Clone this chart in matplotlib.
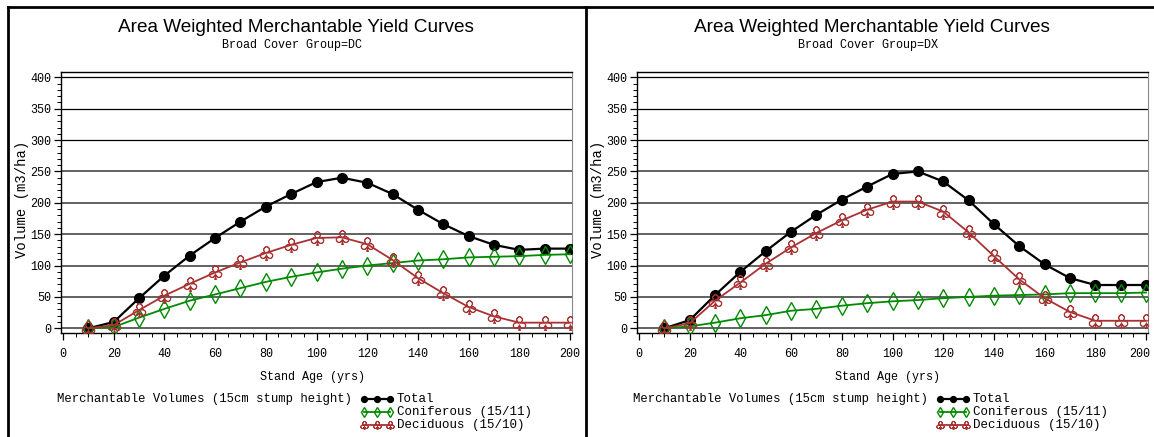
"""Area weighted merchantable yield curves, DC and DX broad cover groups, side by side."""
import numpy as np
import matplotlib
matplotlib.use("Agg")
import matplotlib.pyplot as plt  # noqa: E402
import matplotlib.transforms as mtransforms  # noqa: E402
from matplotlib.lines import Line2D  # noqa: E402
from matplotlib.ticker import MultipleLocator  # noqa: E402

W, H = 1154, 437
AGE = [10, 20, 30, 40, 50, 60, 70, 80, 90, 100, 110, 120, 130, 140, 150, 160, 170, 180, 190, 200]

DC_TOTAL = [0, 10, 48, 84, 116, 144, 170, 194, 214, 233, 240, 232, 214, 189, 166, 147, 133, 125, 127, 127]
DC_CONIF = [0, 2, 17, 31, 44, 54, 64, 74, 82, 89, 95, 100, 104, 108, 110, 113, 114, 115, 117, 118]
DC_DECID = [0, 5, 29, 52, 71, 89, 105, 120, 133, 144, 145, 134, 109, 80, 56, 34, 19, 9, 9, 9]

DX_TOTAL = [0, 13, 53, 90, 123, 154, 181, 205, 226, 246, 250, 234, 204, 166, 131, 102, 80, 69, 69, 69]
DX_CONIF = [0, 3, 9, 16, 21, 28, 31, 36, 40, 43, 45, 48, 50, 52, 53, 54, 56, 56, 56, 57]
DX_DECID = [0, 8, 44, 73, 103, 129, 152, 172, 189, 202, 202, 186, 153, 115, 78, 48, 26, 12, 12, 12]

TITLE = "Area Weighted Merchantable Yield Curves"
FOOT = "Merchantable Volumes (15cm stump height)"
LEGEND = ["Total", "Coniferous (15/11)", "Deciduous (15/10)"]

BLACK, GREEN, RED = "#000000", "#008a00", "#a83232"
SIMPLEX = "Liberation Mono"
STYLES = [
    dict(color=BLACK, marker="o", ms=7, mfc=BLACK, lw=1.6),
    dict(color=GREEN, marker="d", ms=9, mfc="none", mew=1.0, lw=1.3),
    dict(color=RED, marker="$\u2667$", ms=10, mfc="none", mew=0.6, lw=1.3),
]


def fx(px):
    return px / W


def fy(py):
    return 1 - py / H


def panel(fig, x0, group, series):
    # x0 = pixel offset of this panel relative to the left one
    ax = fig.add_axes([fx(61 + x0), fy(333), fx(511), fy(72) - fy(333)])
    for vals, st in zip(series, STYLES):
        ax.plot(AGE, vals, **st, zorder=3)
    ax.set_xlim(-0.8, 200.8)
    ax.set_ylim(-7.5, 408.5)
    ax.xaxis.set_major_locator(MultipleLocator(20))
    ax.xaxis.set_minor_locator(MultipleLocator(5))
    ax.yaxis.set_major_locator(MultipleLocator(50))
    ax.yaxis.set_minor_locator(MultipleLocator(10))
    for v in range(0, 401, 50):
        ax.axhline(v, color="#000000" if v >= 300 else "#555555",
                   lw=0.9 if v >= 300 else 1.3, zorder=1)
    ax.spines["right"].set_color("#888888")
    for s in ("left", "bottom", "top"):
        ax.spines[s].set_linewidth(1.0)
    ax.tick_params(which="major", direction="out", length=5, width=0.9,
                   labelsize=8.5, pad=2)
    ax.tick_params(which="minor", direction="out", length=3, width=0.7)
    ax.tick_params(axis="x", pad=6)
    ax.set_xticks(range(0, 201, 20))
    for lab in ax.get_xticklabels() + ax.get_yticklabels():
        lab.set_family(SIMPLEX)
    if x0 > 0:
        # last age label sits against the page edge; nudge it inward
        last = ax.get_xticklabels()[-1]
        last.set_transform(last.get_transform() +
                           mtransforms.ScaledTranslation(-6 / 100, 0, fig.dpi_scale_trans))

    cx = 296 + x0
    fig.text(fx(cx), fy(27), TITLE, ha="center", va="center",
             fontsize=13.7, family="Liberation Sans")
    fig.text(fx(cx - 4), fy(45), f"Broad Cover Group={group}", ha="center", va="center",
             fontsize=8.5, family=SIMPLEX)
    fig.text(fx(22 + x0), fy(199), "Volume (m3/ha)", rotation=90, ha="center",
             va="center", fontsize=10, family=SIMPLEX)
    fig.text(fx(312 + x0), fy(377), "Stand Age (yrs)", ha="center", va="center",
             fontsize=8.5, family=SIMPLEX)
    fig.text(fx(57 + x0), fy(399), FOOT, ha="left", va="center",
             fontsize=8.8, family=SIMPLEX)

    # legend: short line with three markers, label to the right
    for i, (lab, st) in enumerate(zip(LEGEND, STYLES)):
        yy = fy(399 + 13 * i)
        xs = [fx(364 + x0), fx(377 + x0), fx(390 + x0)]
        small = dict(st)
        small["ms"] = st["ms"] * 0.6
        fig.add_artist(Line2D(xs, [yy] * 3, transform=fig.transFigure, **small))
        fig.text(fx(397 + x0), yy, lab, ha="left", va="center",
                 fontsize=9, family=SIMPLEX)
    return ax


def main():
    fig = plt.figure(figsize=(W / 100, H / 100), dpi=100)
    panel(fig, 0, "DC", [DC_TOTAL, DC_CONIF, DC_DECID])
    panel(fig, 576, "DX", [DX_TOTAL, DX_CONIF, DX_DECID])

    # outer frame and the divider between the two graphs
    for xs, ys in [([fx(8), 1], [fy(7), fy(7)]),
                   ([fx(8), fx(8)], [fy(7), 0]),
                   ([fx(586), fx(586)], [fy(7), 0])]:
        fig.add_artist(Line2D(xs, ys, transform=fig.transFigure, color="black", lw=2))
    fig.savefig("out.png", dpi=100)


if __name__ == "__main__":
    main()
